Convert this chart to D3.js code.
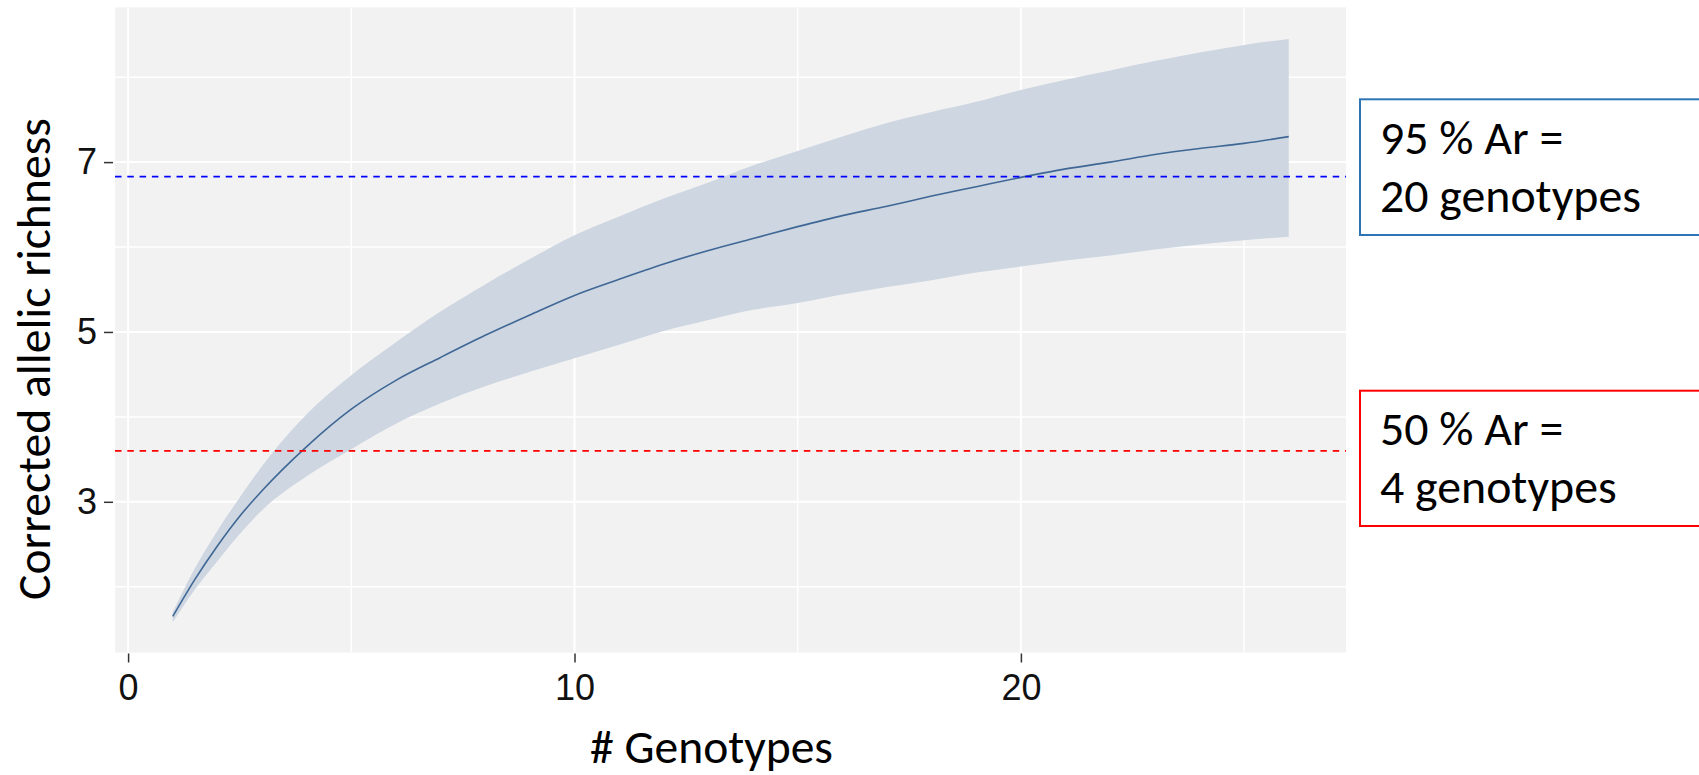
<!DOCTYPE html>
<meta charset="utf-8">
<script src="https://cdn.jsdelivr.net/npm/d3@7"></script>
<style>
body { margin: 0; background: #fff; }
.tick line { stroke: #333; stroke-width: 1.5; }
.title, .note { font-family: Carlito, Calibri, Lato, sans-serif; fill: #000; }
</style>
<body>
<script>
// rarefaction: corrected allelic richness by number of genotypes
var genotypes = [1, 1.5, 2, 2.5, 3, 4, 5, 6, 7, 8, 9, 10, 11, 12, 13, 14, 15, 16, 17, 18, 19, 20, 21, 22, 23, 24, 25, 26]
var richMean = [1.65, 2.09, 2.48, 2.83, 3.13, 3.65, 4.09, 4.43, 4.70, 4.96, 5.20, 5.43, 5.62, 5.80, 5.96, 6.10, 6.24, 6.37, 6.48, 6.60, 6.71, 6.82, 6.92, 7.00, 7.09, 7.16, 7.22, 7.30]
var richLow = [1.58, 1.97, 2.30, 2.62, 2.90, 3.30, 3.62, 3.92, 4.16, 4.36, 4.53, 4.69, 4.85, 5.01, 5.14, 5.26, 5.34, 5.44, 5.53, 5.61, 5.70, 5.77, 5.84, 5.90, 5.97, 6.03, 6.08, 6.12]
var richHigh = [1.70, 2.22, 2.66, 3.05, 3.42, 4.03, 4.49, 4.88, 5.24, 5.56, 5.86, 6.14, 6.36, 6.57, 6.76, 6.96, 7.13, 7.30, 7.46, 7.59, 7.71, 7.85, 7.97, 8.08, 8.19, 8.29, 8.38, 8.45]

var xTicks = [0, 10, 20]
var xMinor = [5, 15, 25]
var yTicks = [3, 5, 7]
var yMinor = [2, 4, 6, 8]

var refValues = [6.83, 3.6]          // 95 % and 50 % of Ar
var noteLines = [["95 % Ar =", "20 genotypes"], ["50 % Ar =", "4 genotypes"]]

var W = 1699, H = 775
var panel = {left: 115, right: 1346, top: 7.4, bottom: 652.5}

var svg = d3.select("body").append("svg").attr("width", W).attr("height", H)

var x = d3.scaleLinear().domain([0, 20]).range([128.1, 1020.9])
var y = d3.scaleLinear().domain([3, 7]).range([501.8, 162.1])

svg.append("rect").attr("x", panel.left).attr("y", panel.top)
  .attr("width", panel.right - panel.left).attr("height", panel.bottom - panel.top)
  .attr("fill", "#f2f2f2")

var grid = svg.append("g")
grid.selectAll(".ym").data(yMinor).enter().append("line")
  .attr("x1", panel.left).attr("x2", panel.right).attr("y1", d => y(d)).attr("y2", d => y(d))
  .attr("stroke", "#fff").attr("stroke-width", 1.5)
grid.selectAll(".xm").data(xMinor).enter().append("line")
  .attr("y1", panel.top).attr("y2", panel.bottom).attr("x1", d => x(d)).attr("x2", d => x(d))
  .attr("stroke", "#fff").attr("stroke-width", 1.5)
grid.selectAll(".yM").data(yTicks).enter().append("line")
  .attr("x1", panel.left).attr("x2", panel.right).attr("y1", d => y(d)).attr("y2", d => y(d))
  .attr("stroke", "#fff").attr("stroke-width", 2)
grid.selectAll(".xM").data(xTicks).enter().append("line")
  .attr("y1", panel.top).attr("y2", panel.bottom).attr("x1", d => x(d)).attr("x2", d => x(d))
  .attr("stroke", "#fff").attr("stroke-width", 2)

var rows = genotypes.map((g, i) => ({g: g, m: richMean[i], lo: richLow[i], hi: richHigh[i]}))

var band = d3.area().x(d => x(d.g)).y0(d => y(d.lo)).y1(d => y(d.hi)).curve(d3.curveMonotoneX)
svg.append("path").datum(rows).attr("d", band).attr("fill", "#cdd6e1")

var line = d3.line().x(d => x(d.g)).y(d => y(d.m)).curve(d3.curveMonotoneX)
svg.append("path").datum(rows).attr("d", line).attr("fill", "none")
  .attr("stroke", "#3f6795").attr("stroke-width", 1.6)

var refColors = ["#0000ff", "#ff0000"]
svg.selectAll(".ref").data(refValues).enter().append("line")
  .attr("x1", panel.left).attr("x2", panel.right).attr("y1", d => y(d)).attr("y2", d => y(d))
  .attr("stroke", (d, i) => refColors[i]).attr("stroke-width", 1.8).attr("stroke-dasharray", "6.5,5.8")

// axes
var xAxis = svg.append("g").attr("transform", "translate(0," + (panel.bottom + 1) + ")")
  .call(d3.axisBottom(x).tickValues(xTicks).tickFormat(d3.format("d")).tickSize(9).tickPadding(12))
xAxis.select(".domain").remove()

var yAxis = svg.append("g").attr("transform", "translate(" + (panel.left - 2) + ",0)")
  .call(d3.axisLeft(y).tickValues(yTicks).tickFormat(d3.format("d")).tickSize(9).tickPadding(7))
yAxis.select(".domain").remove()

svg.selectAll(".tick text").attr("font-family", "Liberation Sans, Arial, sans-serif")
  .attr("font-size", 36).attr("fill", "#111")

// fit text to measured width
function fit(sel, width) {
  var base = 46
  sel.attr("font-size", base)
  var w = sel.node().getComputedTextLength()
  var size = base * width / w
  sel.attr("font-size", size)
  return size
}

var xt = svg.append("text").attr("class", "title").attr("text-anchor", "middle")
  .attr("x", 711.5).attr("y", 763).text("# Genotypes")
fit(xt, 243)

var yt = svg.append("text").attr("class", "title").attr("text-anchor", "middle")
  .attr("transform", "translate(50,359) rotate(-90)").text("Corrected allelic richness")
fit(yt, 482)

// annotation boxes
var boxes = [{top: 99.3, bottom: 235, color: "#2e75b6"}, {top: 390.7, bottom: 526, color: "#ff0000"}]
var probe = svg.append("text").attr("class", "note").text(noteLines[0][1])
var noteSize = fit(probe, 261)
probe.remove()

boxes.forEach(function(b, i) {
  svg.append("rect").attr("x", 1360).attr("y", b.top).attr("width", 400).attr("height", b.bottom - b.top)
    .attr("fill", "#fff").attr("stroke", b.color).attr("stroke-width", 2)
  svg.append("text").attr("class", "note").attr("x", 1380).attr("y", b.top + 54.7)
    .attr("font-size", noteSize).text(noteLines[i][0])
  svg.append("text").attr("class", "note").attr("x", 1380).attr("y", b.top + 112.4)
    .attr("font-size", noteSize).text(noteLines[i][1])
})
</script>
</body>
</html>
